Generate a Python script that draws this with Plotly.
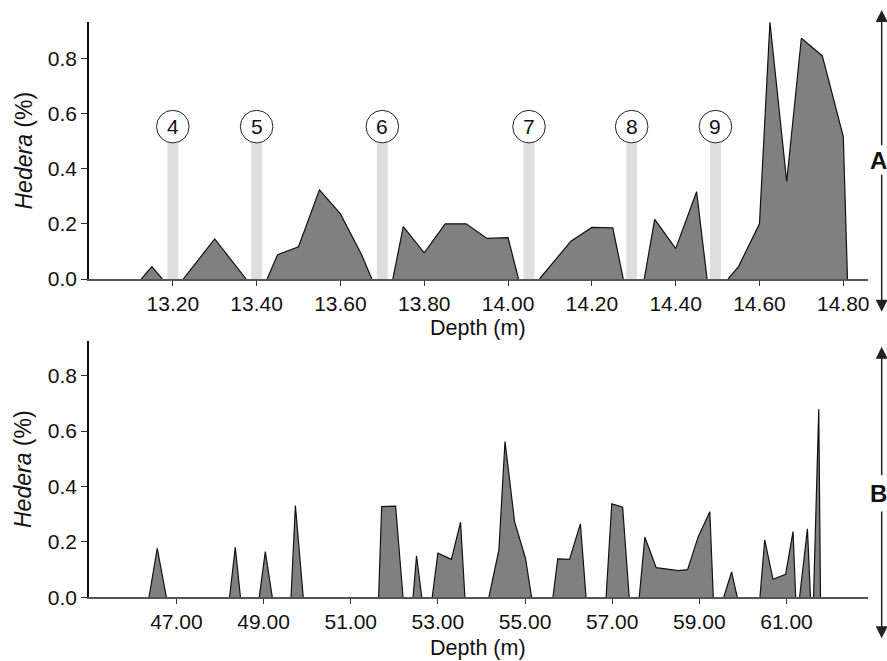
import plotly.graph_objects as go

# ---------------- data ----------------
depth_a = [13.125, 13.15, 13.175, 13.225, 13.30, 13.375, 13.425, 13.45, 13.50, 13.55,
           13.60, 13.65, 13.675, 13.725, 13.75, 13.80, 13.85, 13.90, 13.95, 14.00,
           14.025, 14.075, 14.15, 14.20, 14.25, 14.275, 14.325, 14.35, 14.40, 14.45,
           14.475, 14.525, 14.55, 14.60, 14.625, 14.665, 14.70, 14.75, 14.80, 14.81]
hedera_a = [0, 0.045, 0, 0, 0.145, 0, 0, 0.088, 0.117, 0.323,
            0.236, 0.09, 0, 0, 0.19, 0.095, 0.2, 0.2, 0.147, 0.15,
            0, 0, 0.137, 0.187, 0.185, 0, 0, 0.216, 0.11, 0.316,
            0, 0, 0.045, 0.2, 0.93, 0.353, 0.872, 0.808, 0.516, 0]

depth_b = [46.37, 46.56, 46.77, 48.22, 48.35, 48.47, 48.90, 49.04, 49.20, 49.63,
           49.73, 49.91, 51.64, 51.71, 52.03, 52.20, 52.43, 52.51, 52.63, 52.87,
           53.00, 53.31, 53.52, 53.62, 54.17, 54.40, 54.54, 54.76, 55.01, 55.15,
           55.64, 55.75, 56.02, 56.27, 56.40, 56.86, 56.99, 57.24, 57.39, 57.62,
           57.75, 58.01, 58.52, 58.73, 58.97, 59.24, 59.32, 59.56, 59.74, 59.87,
           60.39, 60.50, 60.69, 60.98, 61.15, 61.21, 61.30, 61.48, 61.55, 61.62,
           61.74, 61.78]
hedera_b = [0, 0.177, 0, 0, 0.18, 0, 0, 0.165, 0, 0,
            0.331, 0, 0, 0.327, 0.329, 0, 0, 0.15, 0, 0,
            0.159, 0.137, 0.271, 0, 0, 0.171, 0.562, 0.273, 0.141, 0,
            0, 0.139, 0.137, 0.265, 0, 0, 0.337, 0.325, 0, 0,
            0.217, 0.107, 0.096, 0.10, 0.217, 0.309, 0, 0, 0.092, 0,
            0, 0.207, 0.065, 0.083, 0.237, 0, 0, 0.247, 0, 0,
            0.679, 0]

marker_labels = ["4", "5", "6", "7", "8", "9"]
marker_depths = [13.20, 13.40, 13.70, 14.05, 14.295, 14.495]

ticks_a = [13.20, 13.40, 13.60, 13.80, 14.00, 14.20, 14.40, 14.60, 14.80]
ticks_b = [47.0, 49.0, 51.0, 53.0, 55.0, 57.0, 59.0, 61.0]
ticks_y = [0.0, 0.2, 0.4, 0.6, 0.8]

# ---------------- helpers ----------------
W, H = 887, 661
FONT = "Liberation Sans, Arial, sans-serif"
FILL = "#808080"


def px(x):
    return x / W


def py(y):
    return 1 - y / H


def segments(xs, ys):
    segs, cur = [], []
    for x, y in zip(xs, ys):
        cur.append((x, y))
        if y == 0 and len(cur) > 1:
            segs.append(cur)
            cur = []
    return segs


fig = go.Figure()

for xs, ys, xa, ya in [(depth_a, hedera_a, "x", "y"), (depth_b, hedera_b, "x2", "y2")]:
    for seg in segments(xs, ys):
        fig.add_trace(go.Scatter(
            x=[p[0] for p in seg], y=[p[1] for p in seg],
            mode="lines", fill="tozeroy", fillcolor=FILL,
            line=dict(color="#111111", width=1.2),
            xaxis=xa, yaxis=ya, showlegend=False, hoverinfo="skip"))

shapes = []
annotations = []

# marker bars and circles
circle_y = 0.552
for lab, d in zip(marker_labels, marker_depths):
    shapes.append(dict(type="rect", xref="x", yref="y", x0=d - 0.013, x1=d + 0.013,
                       y0=0, y1=circle_y - 0.058, fillcolor="#dedede", line=dict(width=0),
                       layer="below"))
    shapes.append(dict(type="circle", xref="x", yref="y", xsizemode="pixel", ysizemode="pixel",
                       xanchor=d, yanchor=circle_y, x0=-16.3, x1=16.3, y0=-16.3, y1=16.3,
                       fillcolor="white", line=dict(color="#222222", width=1)))
    annotations.append(dict(x=d, y=circle_y, xref="x", yref="y", text=lab, showarrow=False,
                            font=dict(family=FONT, size=21, color="#111111"),
                            xanchor="center", yanchor="middle"))

# axis titles
for yc in [328, 647.5]:
    annotations.append(dict(x=px(478.5), y=py(yc), xref="paper", yref="paper",
                            text="Depth (m)", showarrow=False,
                            font=dict(family=FONT, size=21.5, color="#111111"),
                            xanchor="center", yanchor="middle"))
for yc in [150.5, 469]:
    annotations.append(dict(x=px(23), y=py(yc), xref="paper", yref="paper",
                            text="<i>Hedera</i> (%)", showarrow=False, textangle=-90,
                            font=dict(family=FONT, size=23, color="#111111"),
                            xanchor="center", yanchor="middle"))

# side arrows with labels
AX = px(881.7)
for tip, tail in [(10, 146.7), (311.7, 173.3), (346.7, 476.7), (638.3, 510)]:
    annotations.append(dict(x=AX, y=py(tip), xref="paper", yref="paper", text="",
                            showarrow=True, ax=0, ay=tail - tip, arrowhead=2,
                            arrowsize=1.6, arrowwidth=1.5, arrowcolor="#222222",
                            standoff=0, startstandoff=0))
for lab, yc in [("A", 161), ("B", 493)]:
    annotations.append(dict(x=px(878), y=py(yc), xref="paper", yref="paper",
                            text="<b>%s</b>" % lab, showarrow=False,
                            font=dict(family=FONT, size=24, color="#111111"),
                            xanchor="center", yanchor="middle"))

xdom = [px(89), px(868)]
axis_common = dict(showgrid=False, zeroline=False, showline=True, ticks="outside",
                   automargin=False,
                   tickfont=dict(family=FONT, size=21, color="#111111"))

fig.update_layout(
    width=W, height=H,
    margin=dict(l=0, r=0, t=0, b=0, autoexpand=False),
    paper_bgcolor="white", plot_bgcolor="white",
    showlegend=False,
    shapes=shapes, annotations=annotations,
    xaxis=dict(domain=xdom, range=[13.0, 14.859], tickvals=ticks_a, tickformat=".2f",
               linecolor="#555555", linewidth=1.5, ticklen=5, tickcolor="#333333",
               anchor="y", **axis_common),
    yaxis=dict(domain=[py(279), py(22)], range=[0, 0.931], tickvals=ticks_y, tickformat=".1f",
               linecolor="#111111", linewidth=1.5, ticklen=6, tickcolor="#333333",
               anchor="x", **axis_common),
    xaxis2=dict(domain=xdom, range=[44.994, 62.87], tickvals=ticks_b, tickformat=".2f",
                linecolor="#555555", linewidth=1.5, ticklen=5, tickcolor="#333333",
                anchor="y2", **axis_common),
    yaxis2=dict(domain=[py(597.3), py(341)], range=[0, 0.925], tickvals=ticks_y, tickformat=".1f",
                linecolor="#111111", linewidth=1.5, ticklen=6, tickcolor="#333333",
                anchor="x2", **axis_common),
)

post = (
    "document.documentElement.style.margin='0';"
    "document.documentElement.style.overflow='hidden';"
    "document.body.style.margin='0';"
    "document.body.style.overflow='hidden';"
    "var d=document.getElementById('{plot_id}');"
    "d.style.position='fixed';d.style.left='0px';d.style.top='0px';"
)

fig.write_html("out.html", config={"displayModeBar": False}, post_script=post)
